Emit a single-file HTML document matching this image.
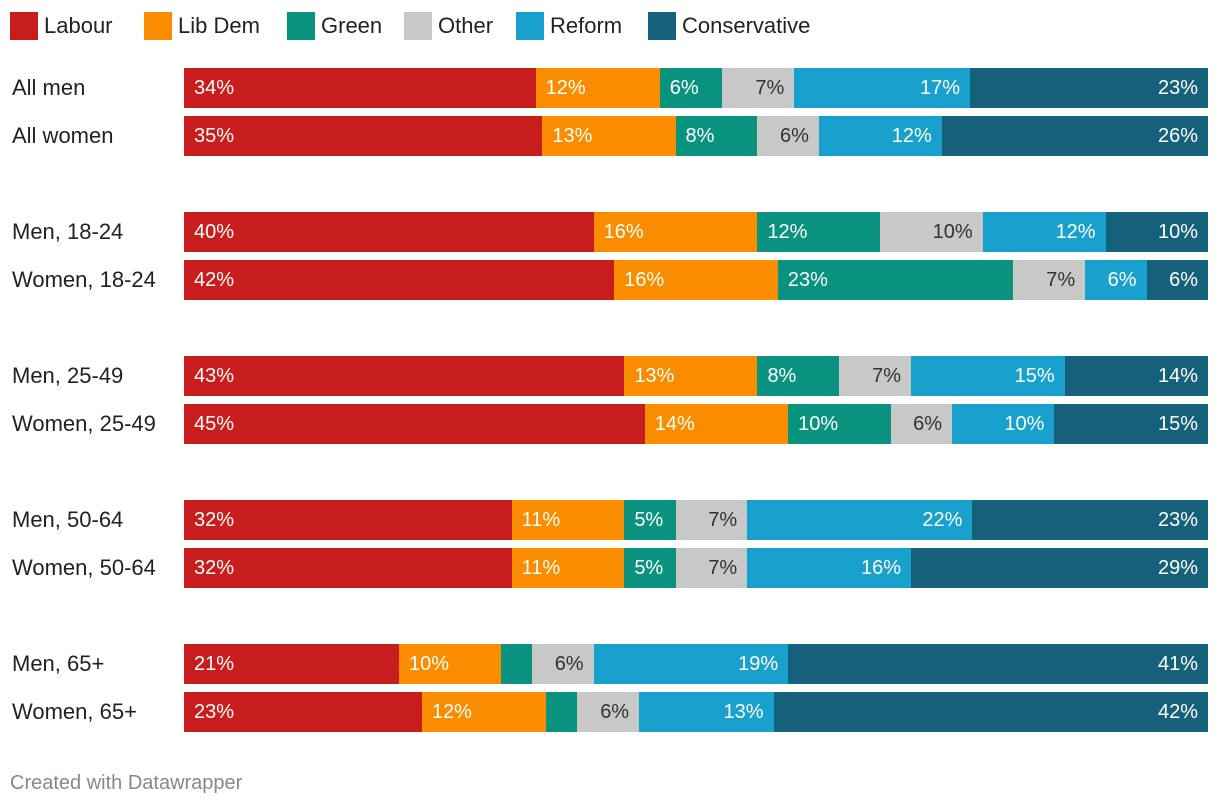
<!DOCTYPE html>
<html><head><meta charset="utf-8">
<style>
body{margin:0;background:#fff;font-family:"Liberation Sans",Arial,sans-serif;}
#wrap{position:relative;width:1220px;height:810px;overflow:hidden;}
.leg{position:absolute;top:12px;height:28px;display:flex;align-items:center;font-size:22px;color:#222;}
.leg span.sw{display:inline-block;width:28px;height:28px;margin-right:6px;}
.rl{position:absolute;left:12px;font-size:22px;color:#222;height:40px;line-height:40px;}
.seg{position:absolute;height:40px;line-height:40px;font-size:20px;box-sizing:border-box;white-space:nowrap;overflow:hidden;}
.foot{position:absolute;left:10px;top:772px;font-size:20px;color:#888;}
</style></head><body>
<div id="wrap">
<div id="legend"></div>
<div id="bars"></div>
<div class="foot">Created with Datawrapper</div>
</div>
<script>
const parties = ["Labour","Lib Dem","Green","Other","Reform","Conservative"];
const colors = ["#c71e1d","#fa8c00","#09937e","#c8c8c8","#18a1cd","#15607a"];
const legendX = [10,144,287,404,516,648];
const rows = ["All men","All women","Men, 18-24","Women, 18-24","Men, 25-49","Women, 25-49","Men, 50-64","Women, 50-64","Men, 65+","Women, 65+"];
const labour = [34,35,40,42,43,45,32,32,21,23];
const libdem = [12,13,16,16,13,14,11,11,10,12];
const green = [6,8,12,23,8,10,5,5,3,3];
const other = [7,6,10,7,7,6,7,7,6,6];
const reform = [17,12,12,6,15,10,22,16,19,13];
const conservative = [23,26,10,6,14,15,23,29,41,42];
const series = [labour,libdem,green,other,reform,conservative];

const leg = document.getElementById('legend');
parties.forEach((p,i)=>{
  const d=document.createElement('div');
  d.className='leg';d.style.left=legendX[i]+'px';
  
  
  d.innerHTML='<span class="sw" style="background:'+colors[i]+'"></span>'+p;
  leg.appendChild(d);
});
const X0=184, W=1024;
const bars=document.getElementById('bars');
rows.forEach((r,ri)=>{
  const y=68+Math.floor(ri/2)*144+(ri%2)*48;
  const l=document.createElement('div');
  l.className='rl';l.style.top=y+'px';l.textContent=r;
  
  
  bars.appendChild(l);
  let tot=0;series.forEach(s=>tot+=s[ri]);
  let acc=0;
  series.forEach((s,si)=>{
    const v=s[ri];
    const x1=X0+W*acc/tot, x2=X0+W*(acc+v)/tot;acc+=v;
    const d=document.createElement('div');
    d.className='seg';
    
    
    d.style.left=x1+'px';d.style.width=(x2-x1)+'px';d.style.top=y+'px';
    d.style.background=colors[si];
    d.style.color=si==3?'#333':'#fff';
    if(si<3){d.style.paddingLeft='10px';d.style.textAlign='left';}
    else{d.style.paddingRight='10px';d.style.textAlign='right';}
    if(x2-x1>40) d.textContent=v+'%';
    bars.appendChild(d);
  });
});
</script>
</body></html>
